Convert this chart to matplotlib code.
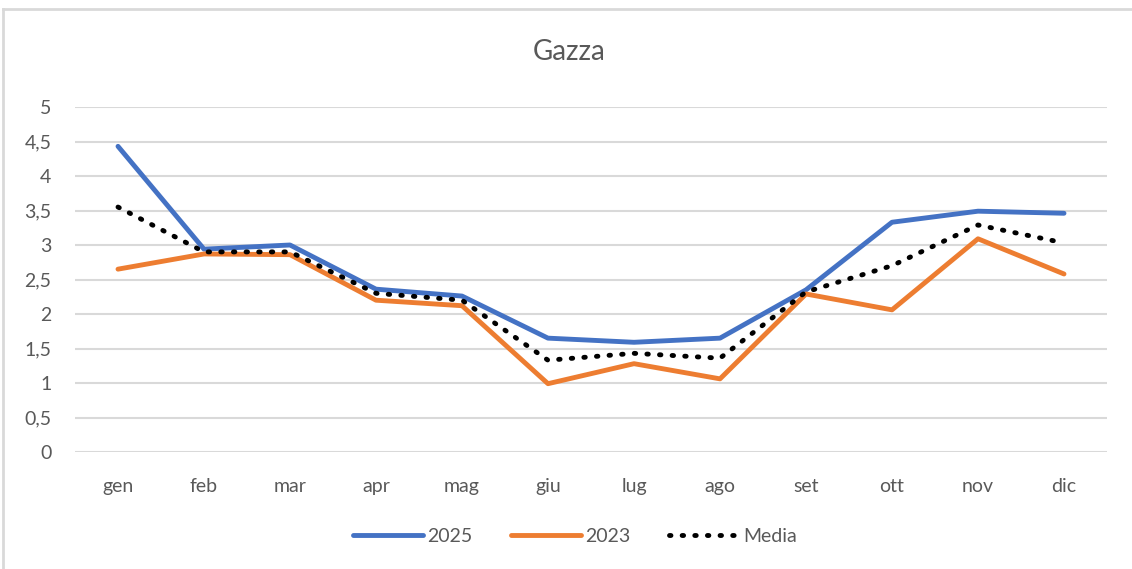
import matplotlib
matplotlib.use("Agg")
import matplotlib.pyplot as plt
from matplotlib.lines import Line2D

months = ["gen", "feb", "mar", "apr", "mag", "giu", "lug", "ago", "set", "ott", "nov", "dic"]
y2025 = [4.43, 2.94, 3.00, 2.36, 2.26, 1.65, 1.59, 1.65, 2.35, 3.33, 3.49, 3.46]
y2023 = [2.65, 2.87, 2.86, 2.20, 2.12, 0.99, 1.28, 1.06, 2.29, 2.06, 3.09, 2.58]
media = [3.55, 2.90, 2.90, 2.30, 2.20, 1.33, 1.43, 1.36, 2.32, 2.70, 3.29, 3.03]
yticks = [0, 0.5, 1, 1.5, 2, 2.5, 3, 3.5, 4, 4.5, 5]
ytick_labels = ["0", "0,5", "1", "1,5", "2", "2,5", "3", "3,5", "4", "4,5", "5"]

plt.rcParams['font.family'] = ['Lato', 'DejaVu Sans']
TXT = "#595959"
GRID = "#d9d9d9"
BLUE = "#4472c4"
ORANGE = "#ed7d31"
DOTS = (0, (0.3, 2.3))
LW = 3.5

fig = plt.figure(figsize=(11.32, 5.69), dpi=100)
ax = fig.add_axes([75/1132, 1-452/569, (1107-75)/1132, (452-107)/569])

x = list(range(len(months)))
ax.plot(x, y2025, color=BLUE, lw=LW, solid_capstyle='round', solid_joinstyle='round', zorder=3, label="2025")
ax.plot(x, y2023, color=ORANGE, lw=LW, solid_capstyle='round', solid_joinstyle='round', zorder=3, label="2023")
ax.plot(x, media, color="black", lw=LW, linestyle=DOTS, dash_capstyle='round', zorder=4, label="Media")

ax.set_xlim(-0.5, len(months) - 0.5)
ax.set_ylim(0, 5)
ax.set_yticks(yticks)
ax.set_yticklabels(ytick_labels)
ax.set_xticks(x)
ax.set_xticklabels(months)
ax.grid(axis='y', color=GRID, lw=1.5, zorder=0)
ax.set_axisbelow(True)
for s in ax.spines.values():
    s.set_visible(False)
ax.tick_params(axis='both', length=0, colors=TXT, labelsize=14)
ax.tick_params(axis='y', pad=17)
ax.tick_params(axis='x', pad=19)

fig.text(0.503, 1-52/569, "Gazza", ha='center', va='center', fontsize=20, color=TXT)

handles = [
    Line2D([], [], color=BLUE, lw=LW, solid_capstyle='round'),
    Line2D([], [], color=ORANGE, lw=LW, solid_capstyle='round'),
    Line2D([], [], color="black", lw=LW, linestyle=DOTS, dash_capstyle='round'),
]
leg = fig.legend(handles, ["2025", "2023", "Media"], loc='center', bbox_to_anchor=(0.508, 1-536/569),
                 ncol=3, frameon=False, fontsize=14, handlelength=3.6, handletextpad=0.2, columnspacing=2.0)
for t in leg.get_texts():
    t.set_color(TXT)

# outer border (top and left visible)
fig.add_artist(Line2D([3/1132, 1.0], [1-8.5/569, 1-8.5/569], color=GRID, lw=2, transform=fig.transFigure))
fig.add_artist(Line2D([3/1132, 3/1132], [0.0, 1-8.5/569], color=GRID, lw=2, transform=fig.transFigure))

fig.savefig("out.png", dpi=100, facecolor="white")
